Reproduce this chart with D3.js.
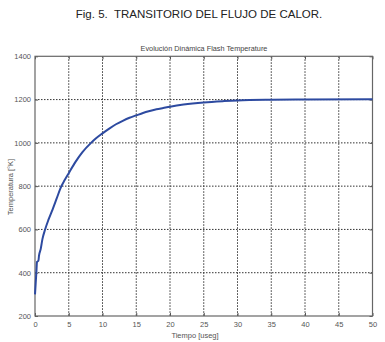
<!DOCTYPE html>
<html><head><meta charset="utf-8">
<script src="https://cdn.jsdelivr.net/npm/d3@7"></script>
<style>body{margin:0;background:#fff;} svg{display:block;}</style>
</head><body>
<svg id="c" width="385" height="342"></svg>
<script>
const caption = "Fig. 5.  TRANSITORIO DEL FLUJO DE CALOR.";
const title = "Evolución Dinámica Flash Temperature";
const xLabel = "Tiempo [useg]";
const yLabel = "Temperatura [°K]";
const xTicks = [0,5,10,15,20,25,30,35,40,45,50];
const yTicks = [200,400,600,800,1000,1200,1400];
const time = [0,0.1,0.2,0.3,0.5,0.6,0.85,1.1,1.5,2.0,2.6,3.2,3.8,4.4,5,6,7,8.3,9,10,11,12,13,14,15,16,17,18,19,20,22,25,28,30,35,40,50];
const temp = [300,350,400,450,455,480,510,555,600,645,692,742,792,828,860,912,956,1000,1020,1044,1066,1086,1102,1116,1127,1138,1147,1155,1161,1167,1177,1187,1193,1196,1199,1200,1201];

const svg = d3.select("#c");
const m = {l:35, r:372.5, t:56.3, b:316};
const x = d3.scaleLinear().domain([0,50]).range([m.l, m.r]);
const y = d3.scaleLinear().domain([200,1400]).range([m.b, m.t]);
const FF = "Liberation Sans, Arial, sans-serif";

svg.append("text").attr("x",199).attr("y",18).attr("text-anchor","middle")
  .style("white-space","pre")
  .attr("font-family",FF).attr("font-size",11.5).attr("fill","#222").text(caption);
svg.append("text").attr("x",204).attr("y",51).attr("text-anchor","middle")
  .attr("font-family",FF).attr("font-size",7.3).attr("fill","#444").text(title);

// grid
const g = svg.append("g");
g.selectAll("line.gx").data(xTicks.slice(1,-1)).join("line")
  .attr("x1",d=>x(d)).attr("x2",d=>x(d)).attr("y1",m.t).attr("y2",m.b)
  .attr("stroke","#333").attr("stroke-width",1).attr("stroke-dasharray","1.5,1.5");
g.selectAll("line.gy").data(yTicks.slice(1,-1)).join("line")
  .attr("x1",m.l).attr("x2",m.r).attr("y1",d=>y(d)).attr("y2",d=>y(d))
  .attr("stroke","#333").attr("stroke-width",1).attr("stroke-dasharray","1.5,1.5");

// axes
const xa = svg.append("g").attr("transform",`translate(0,${m.b})`)
  .call(d3.axisBottom(x).tickValues(xTicks).tickSize(-3).tickPadding(6).tickFormat(d3.format("d")));
const ya = svg.append("g").attr("transform",`translate(${m.l},0)`)
  .call(d3.axisLeft(y).tickValues(yTicks).tickSize(-3).tickPadding(4).tickFormat(d3.format("d")));
[xa,ya].forEach(a=>{
  a.select(".domain").remove();
  a.selectAll("line").attr("stroke","#555");
  a.selectAll("text").attr("font-family",FF).attr("font-size",7.5).attr("fill","#555");
});
// top/right ticks
svg.append("g").attr("transform",`translate(0,${m.t})`)
  .call(d3.axisTop(x).tickValues(xTicks).tickSize(-3).tickFormat(""))
  .call(a=>{a.select(".domain").remove(); a.selectAll("line").attr("stroke","#555");});
svg.append("g").attr("transform",`translate(${m.r},0)`)
  .call(d3.axisRight(y).tickValues(yTicks).tickSize(-3).tickFormat(""))
  .call(a=>{a.select(".domain").remove(); a.selectAll("line").attr("stroke","#555");});

svg.append("rect").attr("x",m.l).attr("y",m.t).attr("width",m.r-m.l).attr("height",m.b-m.t)
  .attr("fill","none").attr("stroke","#666").attr("stroke-width",1.2);

// curve
const pts = time.map((t,i)=>[t,temp[i]]);
svg.append("path").datum(pts)
  .attr("d", d3.line().x(d=>x(d[0])).y(d=>y(d[1])).curve(d3.curveMonotoneX))
  .attr("fill","none").attr("stroke","#2d4aa0").attr("stroke-width",2);

svg.append("text").attr("x",195).attr("y",338).attr("text-anchor","middle")
  .attr("font-family",FF).attr("font-size",7.5).attr("fill","#555").text(xLabel);
svg.append("text").attr("transform","translate(13,187) rotate(-90)").attr("text-anchor","middle")
  .attr("font-family",FF).attr("font-size",7.5).attr("fill","#555").text(yLabel);
</script>
</body></html>
